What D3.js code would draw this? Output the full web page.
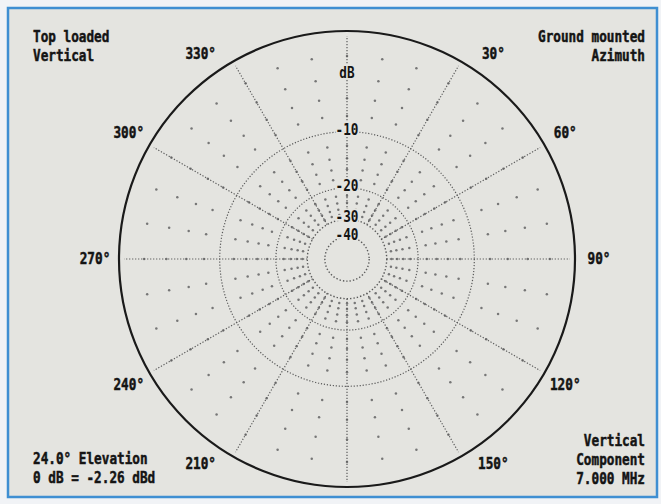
<!DOCTYPE html>
<html>
<head>
<meta charset="utf-8">
<script src="https://cdn.jsdelivr.net/npm/d3@7"></script>
<style>
  body { margin: 0; background: #f1f3f6; }
  text { font-family: "DejaVu Sans Mono", "Liberation Mono", monospace; font-weight: bold; fill: #141414; }
</style>
</head>
<body>
<div id="wrapper"></div>
<script>

// azimuth spokes drawn as dotted lines (deg)
var spokeAngles = [0, 30, 60, 90, 120, 150, 180, 210, 240, 270, 300, 330];
// angle labels round the outside (0 and 180 left blank as in the plot)
var angleLabels = [30, 60, 90, 120, 150, 210, 240, 270, 300, 330];
// dB rings and their labels
var ringLevels = [0, -10, -20, -30, -40];
var ringText = ["dB", "-10", "-20", "-30", "-40"];
// background dot grid
var gridAngles = [0, 10, 20, 30, 40, 50, 60, 70, 80, 90, 100, 110, 120, 130, 140, 150, 160, 170,
                  180, 190, 200, 210, 220, 230, 240, 250, 260, 270, 280, 290, 300, 310, 320, 330, 340, 350];
var gridDb = [-2, -4, -6, -8, -12, -14, -16, -18, -22, -24, -26, -28];

// corner notes
var noteTopLeft = ["Top loaded", "Vertical"];
var noteTopRight = ["Ground mounted", "Azimuth"];
var noteBottomLeft = ["24.0\u00b0 Elevation", "0 dB = -2.26 dBd"];
var noteBottomRight = ["Vertical", "Component", "7.000 MHz"];

var width = 661, height = 504;
var cx = 347, cy = 259, R = 228;
var paper = "#e4e4e0";

// ARRL log periodic scale: radius shrinks to 0.89 every 2 dB
var logR = d3.scaleLinear().domain([0, -40]).range([0, 20 * Math.log(0.89)]);
function r(db) { return R * Math.exp(logR(db)); }

var ang = d3.scaleLinear().domain([0, 360]).range([0, 2 * Math.PI]);
function px(a, rad) { return cx + rad * Math.sin(ang(a)); }
function py(a, rad) { return cy - rad * Math.cos(ang(a)); }

var svg = d3.select("#wrapper").append("svg")
    .attr("width", width)
    .attr("height", height);

// panel + blue frame
svg.append("rect")
    .attr("x", 8).attr("y", 8)
    .attr("width", 649).attr("height", 489)
    .attr("fill", paper)
    .attr("stroke", "#3f8fd2")
    .attr("stroke-width", 2.5);

var plot = svg.append("g");

// dot grid
var dots = [];
gridAngles.forEach(function(a) {
    gridDb.forEach(function(db) { dots.push({ a: a, db: db }); });
});
plot.selectAll(".gdot")
    .data(dots)
    .enter().append("circle")
    .attr("class", "gdot")
    .attr("cx", function(d) { return px(d.a, r(d.db)); })
    .attr("cy", function(d) { return py(d.a, r(d.db)); })
    .attr("r", 1.25)
    .attr("fill", "#767676");

// spokes from -30 dB ring out to the rim
plot.selectAll(".spoke")
    .data(spokeAngles)
    .enter().append("line")
    .attr("class", "spoke")
    .attr("x1", function(d) { return px(d, r(-30)); })
    .attr("y1", function(d) { return py(d, r(-30)); })
    .attr("x2", function(d) { return px(d, R - 5); })
    .attr("y2", function(d) { return py(d, R - 5); })
    .attr("stroke", "#5a5a5a")
    .attr("stroke-width", 1.2)
    .attr("stroke-dasharray", "1.2,1.8");

// dotted rings
plot.selectAll(".ring")
    .data(ringLevels.slice(1))
    .enter().append("circle")
    .attr("class", "ring")
    .attr("cx", cx).attr("cy", cy)
    .attr("r", function(d) { return r(d); })
    .attr("fill", "none")
    .attr("stroke", "#5a5a5a")
    .attr("stroke-width", function(d) { return d <= -30 ? 1.4 : 1.2; })
    .attr("stroke-dasharray", function(d) { return d <= -30 ? "1.4,2" : "1.2,1.8"; });

// 0 dB rim
plot.append("circle")
    .attr("cx", cx).attr("cy", cy)
    .attr("r", r(0))
    .attr("fill", "none")
    .attr("stroke", "#1a1a1a")
    .attr("stroke-width", 2.2);

function font(sel) {
    // the printer font is heavy and narrow
    return sel.attr("font-size", "12.7px");
}

// ring labels, knocked out of the grid
plot.selectAll(".rlab")
    .data(ringLevels)
    .enter().append("text")
    .attr("class", "rlab")
    .attr("transform", function(d) {
        var y = d === 0 ? cy - r(0) + 47 : cy - r(d) + 3;
        return "translate(" + cx + "," + y + ") scale(1,1.2)";
    })
    .attr("text-anchor", "middle")
    .attr("stroke", paper)
    .attr("stroke-width", 3)
    .attr("paint-order", "stroke")
    .text(function(d, i) { return ringText[i]; })
    .call(font);

// angle labels; the ones near top/bottom sit a bit wider than the spoke
plot.selectAll(".alab")
    .data(angleLabels)
    .enter().append("text")
    .attr("class", "alab")
    .attr("transform", function(d) {
        var a = d;
        if (Math.abs(Math.cos(ang(d))) > 0.8) {
            a = d + 5.5 * (Math.sin(ang(d)) * Math.cos(ang(d)) > 0 ? 1 : -1);
        }
        var x = px(a, 252), y = py(a, 252) + 5;
        return "translate(" + x + "," + y + ") scale(1,1.2)";
    })
    .attr("text-anchor", "middle")
    .attr("stroke", "#141414")
    .attr("stroke-width", 0.4)
    .text(function(d) { return d + "\u00b0"; })
    .call(font);

function note(lines, x, y, anchor) {
    svg.append("g").selectAll("text")
        .data(lines)
        .enter().append("text")
        .attr("transform", function(d, i) { return "translate(" + x + "," + (y + i * 19) + ") scale(1,1.2)"; })
        .attr("text-anchor", anchor)
        .attr("stroke", "#141414")
        .attr("stroke-width", 0.4)
        .text(function(d) { return d; })
        .call(font);
}

note(noteTopLeft, 33, 42, "start");
note(noteTopRight, 645, 42, "end");
note(noteBottomLeft, 33, 464, "start");
note(noteBottomRight, 645, 446, "end");

</script>
</body>
</html>
